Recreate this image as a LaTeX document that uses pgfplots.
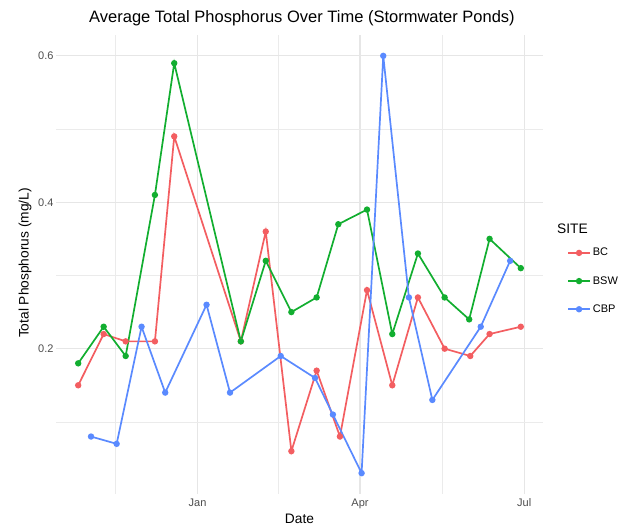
\documentclass[border=0pt]{standalone}
\usepackage{fontspec}
\setmainfont{Liberation Sans}
\usepackage{pgfplots}
\pgfplotsset{compat=1.18}
\definecolor{cBC}{HTML}{F35E61}
\definecolor{cBSW}{HTML}{12AE30}
\definecolor{cCBP}{HTML}{5A8AFF}
\definecolor{tickgray}{HTML}{4D4D4D}
\definecolor{gridgray}{HTML}{E6E6E6}
\begin{document}
\begin{tikzpicture}[x=1pt,y=1pt]
\useasboundingbox (0pt,0pt) rectangle (623pt,527pt);
\begin{axis}[
  at={(56pt,33pt)}, anchor=south west,
  scale only axis, width=487pt, height=459pt,
  xmin=-78.4, xmax=191.4, ymin=0.0015, ymax=0.6285,
  axis line style={draw=none}, tick style={draw=none},
  xtick={0,90,181}, xticklabels={Jan,Apr,Jul},
  minor xtick={-45.5,45,135.5},
  ytick={0.2,0.4,0.6}, minor ytick={0.1,0.3,0.5},
  yticklabel style={/pgf/number format/fixed,/pgf/number format/precision=1,/pgf/number format/fixed zerofill},
  /pgf/number format/assume math mode=true,
  grid=both,
  major grid style={color=gridgray, line width=1.1pt},
  minor grid style={color=gridgray!80, line width=0.6pt},
  ticklabel style={font=\fontsize{11}{13}\selectfont, text=tickgray},
  xticklabel style={yshift=-1pt},
  yticklabel style={xshift=1pt},
  legend style={at={(1,0.49)}, anchor=west, xshift=24pt, yshift=-12pt, draw=none, fill=none,
    font=\fontsize{11}{13}\selectfont, row sep=15pt, inner sep=0pt},
  legend cell align=left,
  legend image code/.code={\draw[#1,mark repeat=2,mark phase=2] plot coordinates {(0pt,0pt) (11pt,0pt) (22pt,0pt)};},
  every axis plot/.append style={line width=1.7pt, mark=*, mark size=2.3pt},
]
\addplot[color=cBC] coordinates {
(-66.1,0.15) (-52.0,0.22) (-39.8,0.21) (-23.6,0.21) (-12.9,0.49) (24.0,0.21)
(37.8,0.36) (52.0,0.06) (66.0,0.17) (78.9,0.08) (93.9,0.28) (107.9,0.15)
(122.1,0.27) (136.9,0.20) (151.1,0.19) (161.8,0.22) (179.1,0.23)};
\addlegendentry{BC}
\addplot[color=cBSW] coordinates {
(-66.1,0.18) (-52.0,0.23) (-39.8,0.19) (-23.6,0.41) (-12.9,0.59) (24.0,0.21)
(37.8,0.32) (52.0,0.25) (66.0,0.27) (78.0,0.37) (93.9,0.39) (107.9,0.22)
(122.1,0.33) (136.9,0.27) (150.5,0.24) (161.8,0.35) (179.1,0.31)};
\addlegendentry{BSW}
\addplot[color=cCBP] coordinates {
(-59.0,0.08) (-44.8,0.07) (-31.0,0.23) (-17.9,0.14) (5.0,0.26) (18.0,0.14)
(46.1,0.19) (65.1,0.16) (75.0,0.11) (90.9,0.03) (102.9,0.60) (117.1,0.27)
(130.1,0.13) (156.9,0.23) (173.2,0.32)};
\addlegendentry{CBP}
\end{axis}
\node[font=\fontsize{16.5}{19}\selectfont] at (302pt,509pt) {Average Total Phosphorus Over Time (Stormwater Ponds)};
\node[font=\fontsize{13.75}{16}\selectfont] at (299.5pt,8.5pt) {Date};
\node[font=\fontsize{13.75}{16}\selectfont, rotate=90] at (25pt,264pt) {Total Phosphorus (mg/L)};
\node[font=\fontsize{13.75}{16}\selectfont, anchor=west, inner sep=0pt] at (557pt,298pt) {SITE};
\end{tikzpicture}
\end{document}
